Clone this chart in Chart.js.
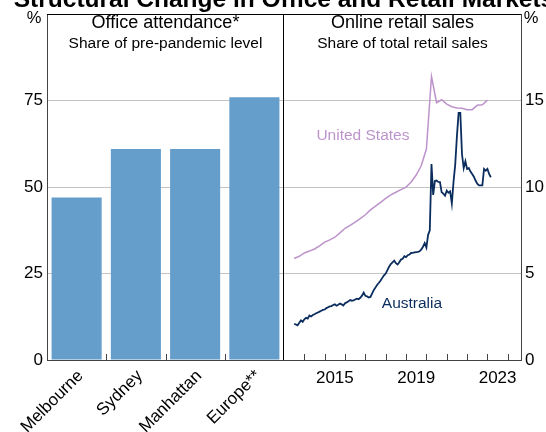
<!DOCTYPE html>
<html><head><meta charset="utf-8">
<script src="https://cdn.jsdelivr.net/npm/chart.js@4.4.0/dist/chart.umd.min.js"></script>
<style>
html,body{margin:0;padding:0;background:#fff;overflow:hidden;}
#wrap{position:relative;width:546px;height:432px;overflow:hidden;background:#fff;}
#title{position:absolute;left:-16px;width:600px;top:-13px;text-align:center;font:bold 24.5px "Liberation Sans",Arial,sans-serif;line-height:24.5px;color:#000;white-space:nowrap;}
canvas{position:absolute;top:0;}
#c1{left:0;}
#c2{left:279px;}
</style></head><body>
<div id="wrap">
<canvas id="c1" width="289" height="432"></canvas>
<canvas id="c2" width="267" height="432"></canvas>
<div id="title">Structural Change in Office and Retail Markets</div>
</div>
<script>
const FONT = '"Liberation Sans", Arial, sans-serif';

// ---- Left panel: office attendance (% of pre-pandemic level)
const cities = ['Melbourne', 'Sydney', 'Manhattan', 'Europe**'];
const attendance = [47, 61, 61, 76];

// ---- Right panel: online retail sales (% of total retail sales)
// United States, quarterly, first point Q3 2013
const usStartYear = 2013.5;
const usShare = [
  5.87, 6.00,
  6.19, 6.30, 6.42, 6.60,
  6.82, 6.95, 7.10, 7.35,
  7.62, 7.78, 7.98, 8.18,
  8.40, 8.68, 8.90, 9.12,
  9.35, 9.55, 9.70, 9.85,
  10.00, 10.30, 10.70, 11.25,
  12.20, 16.40, 14.88, 15.05,
  14.80, 14.65, 14.58, 14.56,
  14.48, 14.48, 14.73, 14.76,
  15.03
];
// Australia, monthly, first point Jul 2013
const ausStartYear = 2013.5;
const ausShare = [
  2.10, 2.05, 2.00, 2.15, 2.29, 2.20,
  2.35, 2.44, 2.40, 2.57, 2.52, 2.60, 2.65, 2.70, 2.75, 2.80, 2.85, 2.90,
  2.92, 3.00, 3.05, 3.10, 3.12, 3.18, 3.22, 3.14, 3.20, 3.27, 3.22, 3.15,
  3.28, 3.33, 3.39, 3.47, 3.43, 3.45, 3.50, 3.55, 3.52, 3.60, 3.72, 3.90,
  3.71, 3.68, 3.62, 3.65, 3.85, 4.05, 4.20, 4.35, 4.47, 4.60, 4.75, 4.90,
  5.00, 5.20, 5.40, 5.55, 5.65, 5.75, 5.60, 5.52, 5.65, 5.81, 5.85, 6.00,
  5.95, 6.06, 6.10, 6.19, 6.20, 6.22, 6.24, 6.25, 6.29, 6.40, 6.55, 6.76,
  6.50, 7.24, 7.50, 11.33, 9.55, 10.35, 10.38, 10.30, 10.29, 9.70, 9.62, 9.50,
  9.80, 9.67, 9.75, 9.05, 10.30, 11.30, 12.95, 14.29, 14.29, 11.90, 11.10, 11.50,
  11.05, 11.10, 10.90, 10.76, 10.60, 10.38, 10.20, 10.10, 10.10, 10.10, 11.05, 10.95,
  11.05, 10.76, 10.57
];
const yearTickLabels = [2015, 2019, 2023];
const yearTickMarks = [2014, 2015, 2016, 2017, 2018, 2019, 2020, 2021, 2022, 2023, 2024];

const usPoints = usShare.map((v, i) => ({ x: usStartYear + i * 0.25, y: v }));
const ausPoints = ausShare.map((v, i) => ({ x: ausStartYear + i / 12, y: v }));

const US_COLOR = '#bd93cb';
const AU_COLOR = '#0b2d5e';
const BAR_COLOR = '#659dcb';
const GRID = '#c3c3c3';
const AXIS = '#444';

function decoPlugin(cfg) {
  return {
    id: 'deco',
    afterDraw(chart) {
      const { ctx, chartArea: a } = chart;
      ctx.save();
      ctx.fillStyle = '#000';
      ctx.textAlign = 'center';
      ctx.textBaseline = 'middle';
      const cx = (a.left + a.right) / 2;
      ctx.font = '18px ' + FONT;
      ctx.fillText(cfg.title, cx, 23);
      ctx.font = '15.5px ' + FONT;
      ctx.fillText(cfg.subtitle, cx, 44);
      ctx.font = '16.5px ' + FONT;
      ctx.fillText('%', cfg.unitX, 18);
      ctx.strokeStyle = '#000';
      ctx.lineWidth = 1;
      const ty = Math.round(a.top) + 0.5;
      ctx.beginPath();
      ctx.moveTo(a.left, ty); ctx.lineTo(a.right, ty);
      if (cfg.divider) {
        const dx = Math.round(a.right) - 0.5;
        ctx.moveTo(dx, a.top); ctx.lineTo(dx, a.bottom);
      }
      ctx.stroke();
      ctx.strokeStyle = AXIS;
      ctx.beginPath();
      cfg.ticks(chart).forEach(px => {
        const x = Math.round(px) + 0.5;
        ctx.moveTo(x, a.bottom); ctx.lineTo(x, a.bottom - 6);
      });
      ctx.stroke();
      if (cfg.labels) {
        const xs = chart.scales.x, ys = chart.scales.y;
        ctx.font = '15.5px ' + FONT;
        cfg.labels.forEach(l => {
          ctx.fillStyle = l.color;
          ctx.fillText(l.text, xs.getPixelForValue(l.x), ys.getPixelForValue(l.y));
        });
      }
      ctx.restore();
    }
  };
}

const tickFont = { family: FONT, size: 17 };

new Chart(document.getElementById('c1'), {
  type: 'bar',
  data: {
    labels: cities,
    datasets: [{ data: attendance, backgroundColor: BAR_COLOR, borderWidth: 0,
      categoryPercentage: 1, barPercentage: 0.845 }]
  },
  options: {
    responsive: false, animation: false, events: [],
    layout: { padding: { top: 11, right: 5, left: 0, bottom: 0 } },
    plugins: { legend: { display: false }, tooltip: { enabled: false } },
    scales: {
      x: {
        grid: { display: false, drawTicks: false },
        border: { display: true, color: AXIS, width: 1 },
        ticks: { font: tickFont, color: '#000', maxRotation: 45, minRotation: 45,
          padding: 6, labelOffset: 4, autoSkip: false },
        afterFit(s) { s.height = 72; }
      },
      y: {
        min: 0, max: 100,
        ticks: { stepSize: 25, font: tickFont, color: '#000', padding: 4,
          callback: v => (v >= 100 ? '' : v) },
        grid: { color: GRID, drawTicks: false },
        border: { display: true, color: AXIS, width: 1 },
        afterFit(s) { s.width = 47; }
      }
    }
  },
  plugins: [decoPlugin({
    title: 'Office attendance*', subtitle: 'Share of pre-pandemic level',
    unitX: 34, divider: true,
    ticks: chart => {
      const x = chart.scales.x, out = [];
      for (let i = 0; i < cities.length - 1; i++) {
        out.push((x.getPixelForValue(i) + x.getPixelForValue(i + 1)) / 2);
      }
      return out;
    }
  })]
});

new Chart(document.getElementById('c2'), {
  type: 'line',
  data: {
    datasets: [
      { data: usPoints, borderColor: US_COLOR, borderWidth: 1.5, pointRadius: 0, tension: 0, fill: false },
      { data: ausPoints, borderColor: AU_COLOR, borderWidth: 1.8, pointRadius: 0, tension: 0, fill: false }
    ]
  },
  options: {
    responsive: false, animation: false, events: [],
    layout: { padding: { top: 11, right: 0, left: 5, bottom: 0 } },
    plugins: { legend: { display: false }, tooltip: { enabled: false } },
    scales: {
      x: {
        type: 'linear', min: 2013, max: 2024.65,
        grid: { display: false, drawTicks: false },
        border: { display: true, color: AXIS, width: 1 },
        ticks: { font: tickFont, color: '#000', padding: 8, maxRotation: 0,
          callback: (v, i) => String(yearTickLabels[i]) },
        afterBuildTicks(s) { s.ticks = yearTickLabels.map(y => ({ value: y + 0.5 })); },
        afterFit(s) { s.height = 72; }
      },
      y: {
        position: 'right', min: 0, max: 20,
        ticks: { stepSize: 5, font: tickFont, color: '#000', padding: 4,
          callback: v => (v >= 20 ? '' : v) },
        grid: { color: GRID, drawTicks: false },
        border: { display: true, color: AXIS, width: 1 },
        afterFit(s) { s.width = 25; }
      }
    }
  },
  plugins: [decoPlugin({
    title: 'Online retail sales', subtitle: 'Share of total retail sales',
    unitX: 252, divider: false,
    ticks: chart => yearTickMarks.map(y => chart.scales.x.getPixelForValue(y)),
    labels: [
      { text: 'United States', x: 2016.88, y: 13.0, color: US_COLOR },
      { text: 'Australia', x: 2019.29, y: 3.23, color: AU_COLOR }
    ]
  })]
});
</script>
</body></html>
